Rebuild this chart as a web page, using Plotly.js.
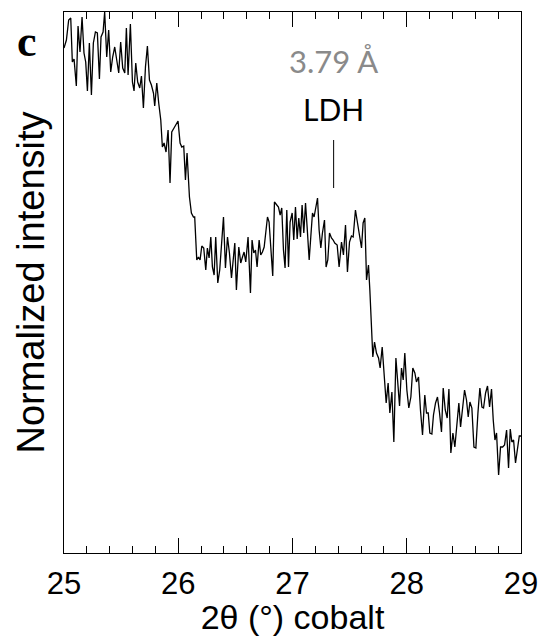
<!DOCTYPE html>
<html>
<head>
<meta charset="utf-8">
<script src="https://cdn.plot.ly/plotly-3.0.1.min.js"></script>
<style>html,body{margin:0;padding:0;background:#fff;}#chart{width:542px;height:636px;}</style>
</head>
<body>
<div id="chart"></div>
<script>
// 2θ (°, cobalt) positions
const twoTheta = [
25.000,25.021,25.041,25.059,25.073,25.088,25.108,25.123,25.140,25.158,
25.175,25.190,25.205,25.222,25.240,25.257,25.275,25.292,25.310,25.324,
25.342,25.356,25.374,25.391,25.409,25.426,25.444,25.461,25.479,25.496,
25.514,25.532,25.546,25.561,25.581,25.599,25.613,25.628,25.645,25.663,
25.678,25.695,25.713,25.730,25.748,25.765,25.783,25.794,25.812,25.829,
25.847,25.861,25.876,25.893,25.911,25.928,25.943,25.963,25.981,25.998,
26.016,26.031,26.048,26.063,26.077,26.086,26.098,26.115,26.133,26.144,
26.162,26.177,26.191,26.206,26.223,26.241,26.255,26.270,26.285,26.299,
26.314,26.328,26.346,26.363,26.378,26.396,26.413,26.431,26.448,26.466,
26.495,26.509,26.530,26.547,26.562,26.576,26.591,26.611,26.632,26.646,
26.661,26.676,26.690,26.708,26.722,26.737,26.752,26.766,26.781,26.795,
26.813,26.827,26.842,26.860,26.877,26.892,26.906,26.921,26.935,26.950,
26.965,26.979,26.997,27.011,27.026,27.041,27.055,27.070,27.084,27.099,
27.114,27.128,27.146,27.160,27.175,27.189,27.204,27.219,27.233,27.248,
27.262,27.280,27.294,27.309,27.324,27.341,27.356,27.370,27.391,27.408,
27.429,27.446,27.464,27.481,27.499,27.516,27.531,27.551,27.569,27.586,
27.604,27.618,27.633,27.648,27.665,27.677,27.686,27.694,27.703,27.718,
27.735,27.753,27.767,27.785,27.802,27.820,27.837,27.852,27.870,27.887,
27.905,27.922,27.937,27.954,27.969,27.983,28.001,28.018,28.036,28.053,
28.071,28.085,28.103,28.120,28.138,28.158,28.173,28.188,28.202,28.220,
28.234,28.252,28.269,28.287,28.304,28.319,28.337,28.354,28.369,28.386,
28.404,28.421,28.439,28.456,28.471,28.488,28.506,28.523,28.538,28.553,
28.570,28.588,28.605,28.623,28.640,28.658,28.672,28.690,28.707,28.725,
28.742,28.757,28.772,28.786,28.804,28.821,28.839,28.856,28.874,28.891,
28.906,28.920,28.935,28.952,28.970,28.985,29.000
];
// normalized intensity (arbitrary units)
const intensity = [
505,513,533,535,491,494,467,527,501,536,
500,491,462,510,458,510,521,520,474,516,
521,541,496,523,481,496,506,493,480,511,
485,480,525,478,529,471,462,490,471,465,
477,445,486,507,473,468,460,447,470,450,
433,406,410,401,423,370,421,425,428,432,
410,406,407,373,400,383,356,340,336,336,
293,296,293,307,305,283,305,295,316,286,
278,316,270,283,313,336,285,316,300,275,
310,263,306,290,296,301,291,316,260,313,
300,303,286,313,298,301,306,320,336,331,
293,277,351,348,346,338,345,303,285,343,
286,331,340,313,346,314,335,316,348,320,
350,326,293,316,340,336,346,355,323,305,
320,333,286,293,320,315,313,310,308,286,
311,298,328,281,311,317,316,343,330,318,
305,330,335,273,288,263,240,216,196,211,
200,195,185,206,173,150,170,140,161,111,
195,173,147,185,173,200,163,145,156,185,
180,171,176,143,118,158,140,140,120,119,
138,150,156,140,121,165,143,135,164,100,
120,106,133,150,126,143,163,153,136,151,
145,106,105,140,165,146,145,160,167,146,
164,133,113,120,78,106,106,108,123,85,
124,111,113,90,106,117,117
];
const xTickVals = [25, 26, 27, 28, 29];
const xTickText = ['25', '26', '27', '28', '29'];
const peakLabel = '3.79 Å';
const phaseLabel = 'LDH';
const peakPosition = 27.36;
const panelLabel = 'c';

const trace = {
  x: twoTheta, y: intensity, type: 'scatter', mode: 'lines',
  line: {color: '#000', width: 1.3}, hoverinfo: 'skip', showlegend: false
};

const layout = {
  width: 542, height: 636,
  margin: {l: 64, r: 21, t: 12, b: 83},
  paper_bgcolor: '#fff', plot_bgcolor: '#fff',
  font: {family: 'Liberation Sans, Arial, sans-serif', color: '#000'},
  xaxis: {
    range: [25, 29], tickvals: xTickVals, ticktext: xTickText,
    ticks: 'inside', ticklen: 15, tickwidth: 1, tickcolor: '#000',
    showline: true, linecolor: '#000', linewidth: 1, mirror: 'ticks',
    showgrid: false, zeroline: false, ticklabelstandoff: 3,
    tickfont: {size: 31, family: 'Liberation Sans, Arial, sans-serif', color: '#000'},
    minor: {dtick: 0.2, tick0: 25, ticks: 'inside', ticklen: 7, tickcolor: '#000', tickwidth: 1, showgrid: false},
    title: {text: '2θ (°) cobalt', font: {size: 34, family: 'Liberation Sans, Arial, sans-serif', color: '#000'}, standoff: 3}
  },
  yaxis: {
    range: [0, 541], showticklabels: false, ticks: '',
    showline: true, linecolor: '#000', linewidth: 1, mirror: true,
    showgrid: false, zeroline: false,
    title: {text: 'Normalized intensity', font: {size: 38, family: 'Liberation Sans, Arial, sans-serif', color: '#000'}, standoff: 6}
  },
  shapes: [{
    type: 'line', xref: 'x', yref: 'y', x0: peakPosition, x1: peakPosition, y0: 365, y1: 413,
    line: {color: '#000', width: 1}
  }],
  annotations: [
    {text: peakLabel, xref: 'x', yref: 'y', x: peakPosition, y: 492, showarrow: false,
     xanchor: 'center', yanchor: 'middle', font: {family: 'Lato, sans-serif', size: 31, color: '#8a8a8a'}},
    {text: phaseLabel, xref: 'x', yref: 'y', x: peakPosition, y: 444, showarrow: false,
     xanchor: 'center', yanchor: 'middle', font: {family: 'Lato, sans-serif', size: 30, color: '#000'}},
    {text: '<b>' + panelLabel + '</b>', xref: 'paper', yref: 'paper', x: -0.08, y: 0.945, showarrow: false,
     xanchor: 'center', yanchor: 'middle', font: {family: 'Liberation Serif, serif', size: 44, color: '#000'}}
  ]
};

Plotly.newPlot('chart', [trace], layout, {staticPlot: true, displayModeBar: false});
</script>
</body>
</html>
